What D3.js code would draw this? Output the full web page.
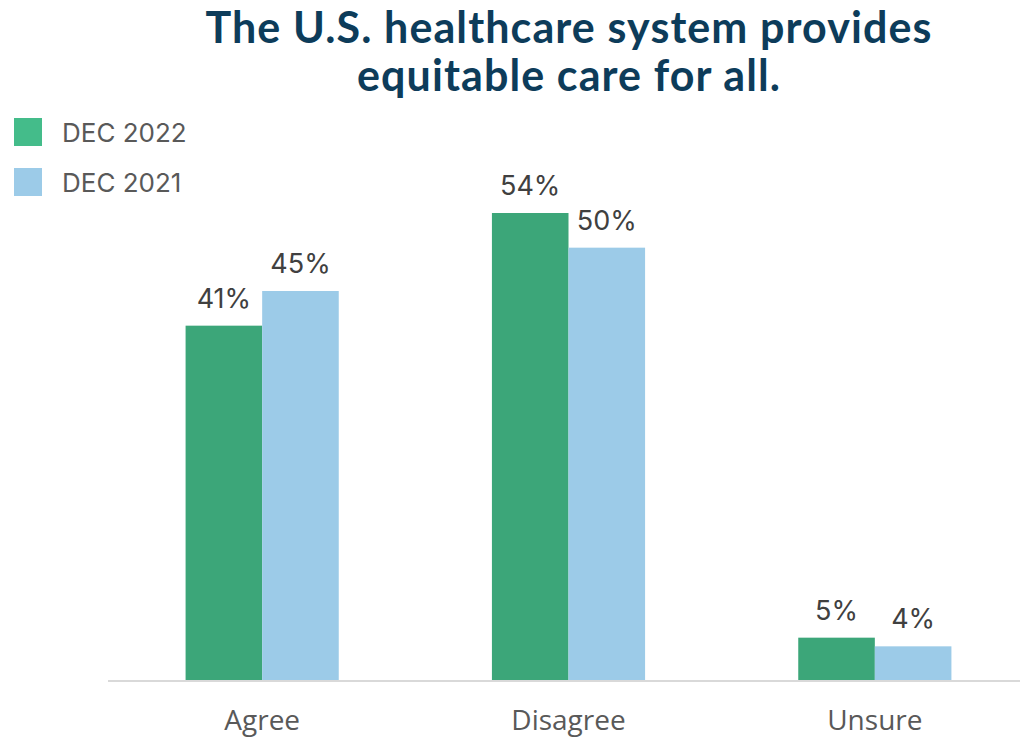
<!DOCTYPE html>
<html>
<head>
<meta charset="utf-8">
<script src="https://cdn.jsdelivr.net/npm/d3@7"></script>
<style>
  html, body { margin: 0; padding: 0; background: #ffffff; }
  svg { display: block; }
</style>
</head>
<body>
<svg id="chart" width="1020" height="738"></svg>
<script>
// Survey responses, two waves
const categories = ["Agree", "Disagree", "Unsure"];
const seriesNames = ["DEC 2022", "DEC 2021"];
const dec2022 = [41, 54, 5];
const dec2021 = [45, 50, 4];
const titleLines = ["The U.S. healthcare system provides", "equitable care for all."];

const barColors = ["#3ca679", "#9ccbe8"];
const legendColors = ["#44bc8a", "#9ccbe8"];

const svg = d3.select("#chart");
const baseY = 681;

const x0 = d3.scaleBand()
  .domain(categories)
  .range([109, 1028])
  .paddingInner(0.5)
  .paddingOuter(0.25);

const x1 = d3.scaleBand()
  .domain(seriesNames)
  .range([0, x0.bandwidth()]);

const y = d3.scaleLinear()
  .domain([0, 54])
  .range([baseY, 213]);

// Title
svg.append("g")
  .selectAll("text")
  .data(titleLines)
  .join("text")
  .attr("x", 569)
  .attr("y", (d, i) => 43 + i * 48)
  .attr("text-anchor", "middle")
  .attr("font-family", "Lato, 'Noto Sans', sans-serif")
  .attr("font-weight", 700)
  .attr("font-size", 43)
  .attr("letter-spacing", 1.1)
  .attr("fill", "#0d3c5a")
  .text(d => d);

// Legend
const legend = svg.append("g")
  .selectAll("g")
  .data(seriesNames)
  .join("g")
  .attr("transform", (d, i) => `translate(14, ${118 + i * 50})`);
legend.append("rect")
  .attr("width", 28)
  .attr("height", 28)
  .attr("fill", (d, i) => legendColors[i]);
legend.append("text")
  .attr("x", 48)
  .attr("y", 24)
  .attr("font-family", "Inter, 'Noto Sans', sans-serif")
  .attr("font-size", 26)
  .attr("fill", "#595959")
  .text(d => d);

// Bars
const rows = categories.map((c, i) => ({
  category: c,
  values: [
    { series: seriesNames[0], value: dec2022[i], color: barColors[0] },
    { series: seriesNames[1], value: dec2021[i], color: barColors[1] }
  ]
}));

const groups = svg.append("g")
  .selectAll("g")
  .data(rows)
  .join("g")
  .attr("transform", d => `translate(${x0(d.category)},0)`);

groups.selectAll("rect")
  .data(d => d.values)
  .join("rect")
  .attr("x", d => x1(d.series))
  .attr("y", d => y(d.value))
  .attr("width", x1.bandwidth())
  .attr("height", d => baseY - y(d.value))
  .attr("fill", d => d.color);

groups.selectAll("text")
  .data(d => d.values)
  .join("text")
  .attr("x", d => x1(d.series) + x1.bandwidth() / 2)
  .attr("y", d => y(d.value) - 18)
  .attr("text-anchor", "middle")
  .attr("font-family", "Inter, 'Noto Sans', sans-serif")
  .attr("font-size", 27)
  .attr("fill", "#404040")
  .text(d => d.value + "%");

// Category axis
const axis = svg.append("g")
  .attr("transform", `translate(0,${baseY})`)
  .call(d3.axisBottom(x0).tickSize(0).tickPadding(0));
axis.select(".domain")
  .attr("d", "M108,0H1020")
  .attr("stroke", "#d9d9d9")
  .attr("stroke-width", 2);
axis.selectAll(".tick text")
  .attr("y", 49)
  .attr("dy", 0)
  .attr("font-family", "'Open Sans', 'Noto Sans', sans-serif")
  .attr("font-size", 28)
  .attr("fill", "#595959");
</script>
</body>
</html>
